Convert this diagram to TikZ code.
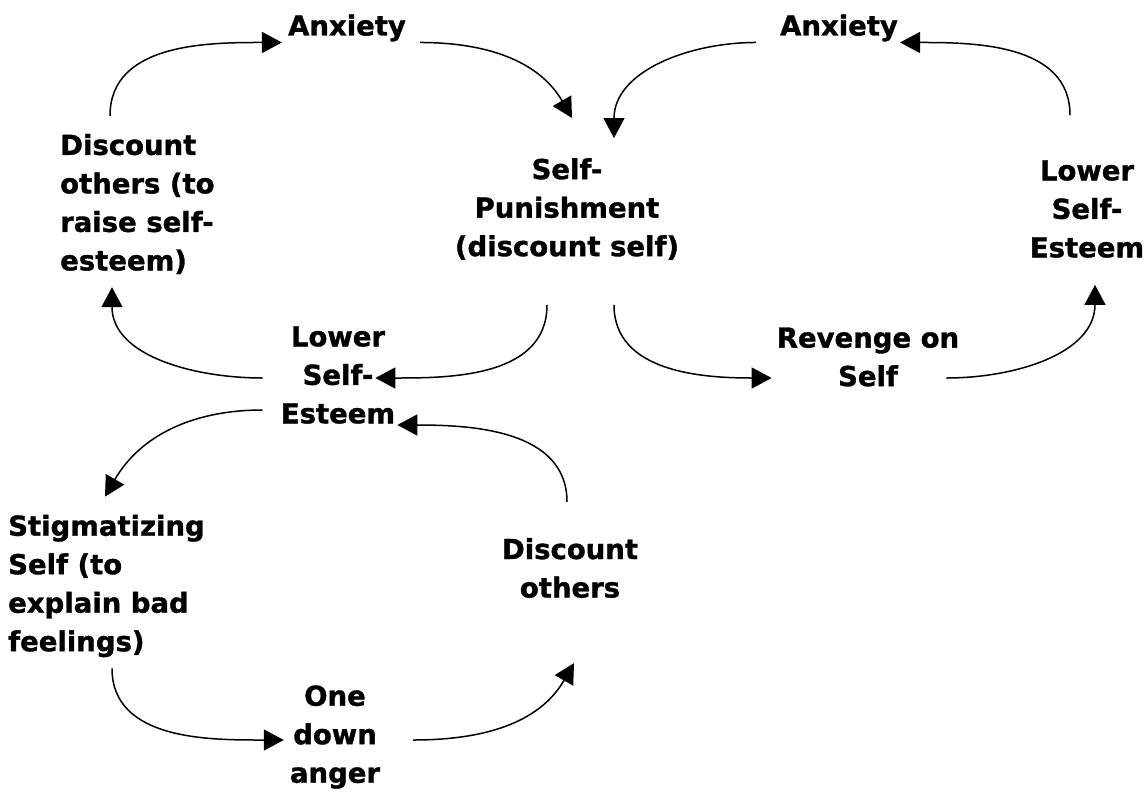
\documentclass[tikz,border=0pt]{standalone}
\usepackage{fontspec}
\setmainfont{DejaVu Sans}[BoldFeatures={FakeBold=1.2}]
\usetikzlibrary{arrows.meta}
\tikzset{
  lbl/.style={font=\fontsize{27.5}{38.5}\selectfont\bfseries,inner sep=0pt,align=center},
  lbll/.style={lbl,align=left},
  arr/.style={line width=1.5pt,-{Triangle[length=20pt,width=21pt]}},
}
\begin{document}
\begin{tikzpicture}[x=1pt,y=1pt]
\useasboundingbox (0,0) rectangle (1144,-793);
\foreach \nm/\kx/\ky/\txt in {anxL/347/-28/{Anxiety},anxR/839/-28/{Anxiety},pun/567/-209/{Self-\\Punishment\\(discount self)},lseR/1087/-209/{Lower\\Self-\\Esteem},lseM/338/-375/{Lower\\Self-\\Esteem},rev/868/-357/{Revenge on\\Self},doth/570/-568/{Discount\\others},oda/335/-737/{One\\down\\anger}}{\node[lbl](\nm) at (\kx,\ky){\txt};}
\node[lbll,anchor=west](dol) at (60,-204){Discount\\others (to\\raise self-\\esteem)};
\node[lbll,anchor=west](stig) at (8,-586){Stigmatizing\\Self (to\\explain bad\\feelings)};
% upper left loop
\draw[arr]([shift={(50,18)}]dol.north west) to[out=90,in=180] ([shift={(-6,-7)}]anxL.base west);
\draw[arr]([shift={(14,-7)}]anxL.base east) to[out=0,in=120] ([shift={(5,40)}]pun.north);
\draw[arr]([shift={(-20,-45)}]pun.south) to[out=-90,in=0] ([shift={(-20,-3)}]lseM.east);
\draw[arr]([shift={(-18,-3)}]lseM.west) to[out=180,in=-90] ([shift={(52,-13)}]dol.south west);
% upper right loop
\draw[arr]([shift={(-17,45)}]lseR.north) to[out=90,in=0] ([shift={(2,-7)}]anxR.base east);
\draw[arr]([shift={(-24,-7)}]anxR.base west) to[out=180,in=90] ([shift={(47,20)}]pun.north);
\draw[arr]([shift={(47,-45)}]pun.south) to[out=-90,in=180] ([shift={(-5,-21)}]rev.west);
\draw[arr]([shift={(-13,-21)}]rev.east) to[out=0,in=-90] ([shift={(8,-27)}]lseR.south);
% lower loop
\draw[arr]([shift={(-18,-35)}]lseM.west) to[out=180,in=60] ([shift={(97,18)}]stig.north west);
\draw[arr]([shift={(104,-11)}]stig.south west) to[out=-90,in=180] ([shift={(-6,-3)}]oda.west);
\draw[arr]([shift={(33,-3)}]oda.east) to[out=0,in=-120] ([shift={(4,-65)}]doth.south);
\draw[arr]([shift={(-3,36)}]doth.north) to[out=90,in=0] ([shift={(2,-50)}]lseM.east);
\end{tikzpicture}
\end{document}
